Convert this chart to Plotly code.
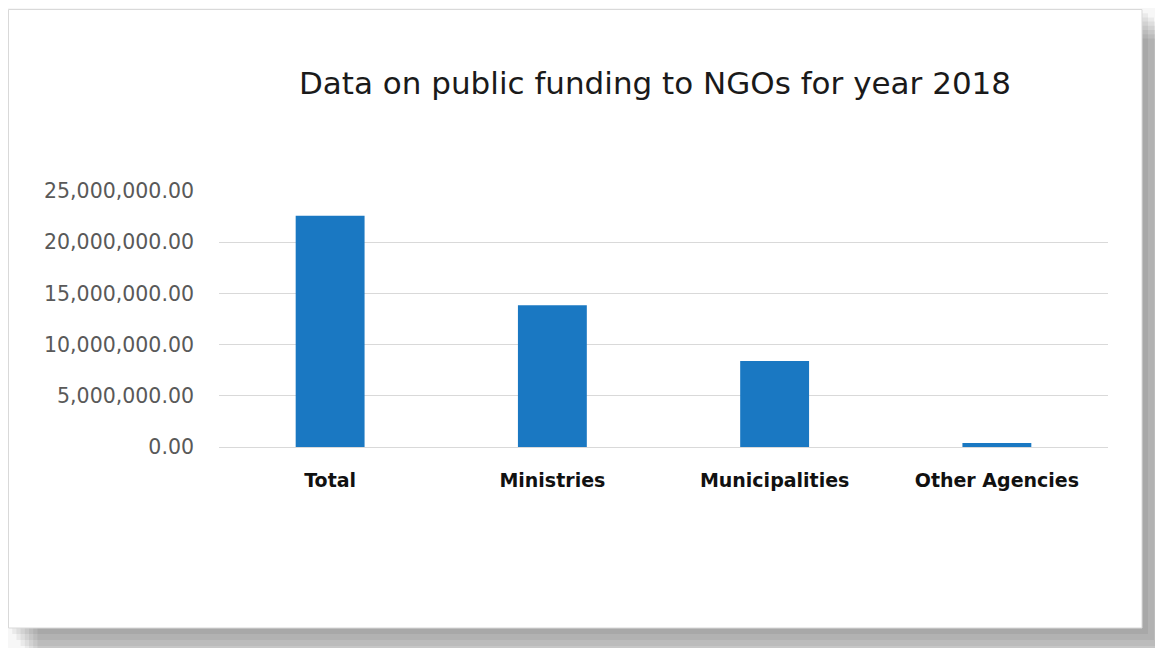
import plotly.graph_objects as go

categories = ["Total", "Ministries", "Municipalities", "Other Agencies"]
values = [22580000, 13850000, 8410000, 390000]
tick_vals = [0, 5000000, 10000000, 15000000, 20000000, 25000000]
tick_text = ["0.00", "5,000,000.00", "10,000,000.00", "15,000,000.00",
             "20,000,000.00", "25,000,000.00"]

O = 8  # page body margin offset
SW, SH = 1163, 648  # screen size
W, H = SW - O, SH - O
L, R, T, B = 219, 1108, 191, 447  # plot area in screen pixels


def px(x):
    return (x - L) / (R - L)


def py(y):
    return (B - y) / (B - T)


shapes = []
# soft shadow (offset to bottom-right)
for i in range(7):
    off = 6 * (i + 1)
    shapes.append(dict(type="rect", xref="paper", yref="paper", layer="below",
                       x0=px(8 + off * 0.7), x1=px(1142 + off),
                       y0=py(9 + off * 0.7), y1=py(628 + off),
                       fillcolor="rgba(0,0,0,0.05)", line=dict(width=0)))
# card
shapes.append(dict(type="rect", xref="paper", yref="paper", layer="below",
                   x0=px(8.5), x1=px(1142), y0=py(9.5), y1=py(628),
                   fillcolor="white", line=dict(color="#d9d9d9", width=1)))

fig = go.Figure(go.Bar(x=categories, y=values,
                       marker=dict(color="#1a78c2", line=dict(width=0))))

fig.update_layout(
    width=W, height=H,
    margin=dict(l=L - O, r=SW - R, t=T - O, b=SH - B, pad=0),
    paper_bgcolor="#f7f7f7",
    plot_bgcolor="rgba(0,0,0,0)",
    bargap=0.69,
    showlegend=False,
    shapes=shapes,
    title=dict(text="Data on public funding to NGOs for year 2018",
               x=(655 - O) / W, xanchor="center", xref="container",
               y=1 - (83 - O) / H, yanchor="middle", yref="container",
               font=dict(family="DejaVu Sans", size=31, color="#1a1a1a")),
    font=dict(family="DejaVu Sans"),
)
fig.update_yaxes(range=[0, 25000000], tickvals=tick_vals, ticktext=tick_text,
                 showgrid=True, gridcolor="#d9d9d9", gridwidth=1,
                 zeroline=False, showline=False,
                 ticklabelstandoff=24,
                 tickfont=dict(family="DejaVu Sans", size=20.5, color="#595959"))
fig.update_xaxes(showgrid=False, showline=True, linecolor="#d9d9d9", linewidth=1,
                 ticks="outside", ticklen=16, tickcolor="rgba(0,0,0,0)",
                 tickfont=dict(family="DejaVu Sans", size=19, color="#111111",
                               weight="bold"))

fig.write_html("out.html")
